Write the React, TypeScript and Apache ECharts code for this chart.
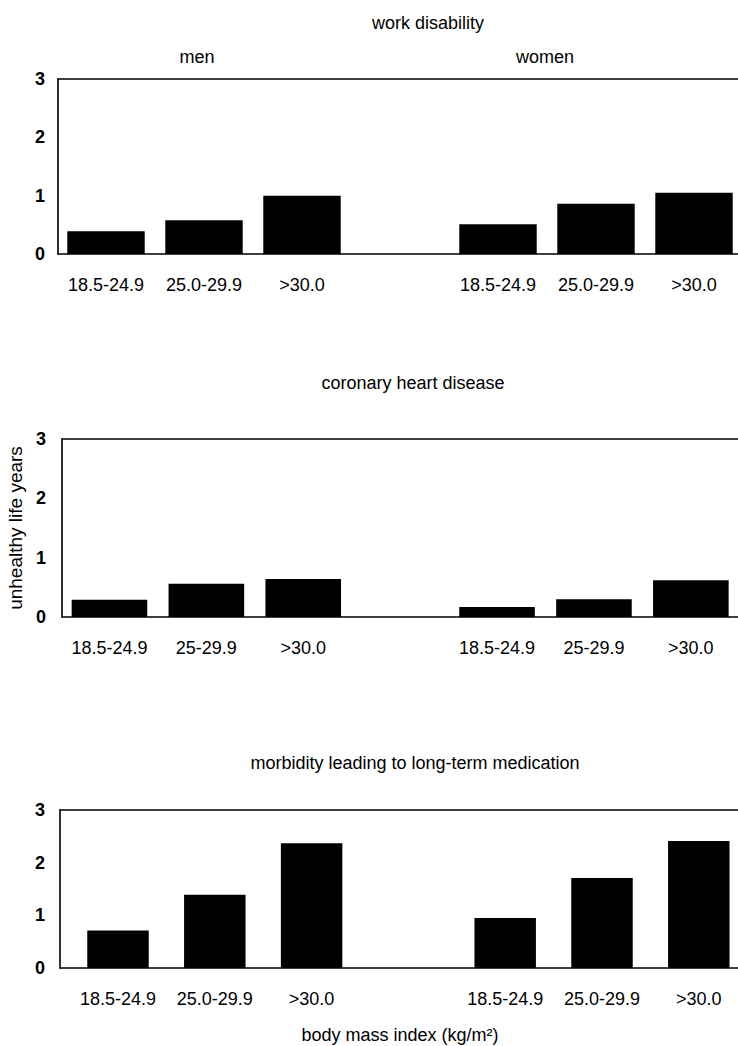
import React, { useEffect, useRef } from "react";
import * as echarts from "echarts";

// ---- data ----
const categoriesA = ["18.5-24.9", "25.0-29.9", ">30.0"];
const categoriesB = ["18.5-24.9", "25-29.9", ">30.0"];

const workMen = [0.39, 0.58, 1.0];
const workWomen = [0.51, 0.86, 1.05];
const chdMen = [0.29, 0.56, 0.64];
const chdWomen = [0.17, 0.3, 0.62];
const medMen = [0.71, 1.39, 2.37];
const medWomen = [0.95, 1.71, 2.41];

const yTicks = [0, 1, 2, 3];
const panelTitles = [
  "work disability",
  "coronary heart disease",
  "morbidity leading to long-term medication",
];
const groupLabels = ["men", "women"];
const yAxisTitle = "unhealthy life years";
const xAxisTitle = "body mass index (kg/m²)";

// ---- layout (positions / styles) ----
const FONT = "'Liberation Sans', Arial, Helvetica, sans-serif";
const layouts = [
  { axisX: 58, top: 79, base: 254, slotLeft: 57, slot: 98, barW: "79%", labelMargin: 13, nameGap: 0 },
  { axisX: 62, top: 439, base: 617, slotLeft: 61, slot: 96.9, barW: "78%", labelMargin: 16, nameGap: 35 },
  { axisX: 60, top: 810, base: 968, slotLeft: 69.6, slot: 96.8, barW: "63.5%", labelMargin: 15, nameGap: 0 },
];
const W = 738;
const H = 1046;

const panelData = [
  { cats: categoriesA, men: workMen, women: workWomen },
  { cats: categoriesB, men: chdMen, women: chdWomen },
  { cats: categoriesA, men: medMen, women: medWomen },
];

function buildOption() {
  const grid: any[] = [];
  const xAxis: any[] = [];
  const yAxis: any[] = [];
  const series: any[] = [];
  const lineStyle = { color: "#000", width: 1.6 };

  panelData.forEach((p, i) => {
    const L = layouts[i];
    const cats = [...p.cats, "", ...p.cats];
    const vals = [...p.men, null, ...p.women];
    const frameGrid = grid.length;
    grid.push({
      left: L.axisX,
      right: -12,
      top: L.top,
      height: L.base - L.top,
      outerBoundsMode: "none",
      containLabel: false,
    });
    const barGrid = grid.length;
    grid.push({
      left: L.slotLeft,
      width: L.slot * cats.length,
      top: L.top,
      height: L.base - L.top,
      outerBoundsMode: "none",
      containLabel: false,
    });
    // frame axes
    const common = {
      type: "value",
      min: 0,
      max: 1,
      gridIndex: frameGrid,
      axisLabel: { show: false },
      axisTick: { show: false },
      splitLine: { show: false },
      axisLine: { show: true, onZero: false, lineStyle },
    };
    xAxis.push({ ...common, position: "bottom" });
    xAxis.push({ ...common, position: "top" });
    const barX = xAxis.length;
    xAxis.push({
      type: "category",
      gridIndex: barGrid,
      data: cats,
      position: "bottom",
      axisLine: { show: false },
      axisTick: { show: false },
      splitLine: { show: false },
      axisLabel: {
        interval: 0,
        margin: 22,
        color: "#000",
        fontSize: 18,
        fontFamily: FONT,
      },
    });
    yAxis.push({
      type: "value",
      gridIndex: frameGrid,
      min: yTicks[0],
      max: yTicks[yTicks.length - 1],
      interval: 1,
      axisLine: { show: true, onZero: false, lineStyle },
      axisTick: { show: false },
      splitLine: { show: false },
      axisLabel: {
        margin: L.labelMargin,
        color: "#000",
        fontSize: 18,
        fontWeight: "bold",
        fontFamily: FONT,
      },
      ...(i === 1
        ? {
            name: yAxisTitle,
            nameLocation: "middle",
            nameGap: L.nameGap,
            nameTextStyle: { color: "#000", fontSize: 19, fontFamily: FONT },
          }
        : {}),
    });
    const barY = yAxis.length;
    yAxis.push({
      type: "value",
      gridIndex: barGrid,
      min: yTicks[0],
      max: yTicks[yTicks.length - 1],
      show: false,
    });
    series.push({
      type: "bar",
      xAxisIndex: barX,
      yAxisIndex: barY,
      data: vals,
      barWidth: L.barW,
      itemStyle: { color: "#000" },
      z: 1,
    });
  });

  const textStyle = (x: number, y: number, text: string) => ({
    type: "text",
    x,
    y,
    style: {
      text,
      fill: "#000",
      fontSize: 18,
      fontFamily: FONT,
      align: "center",
      verticalAlign: "middle",
    },
  });

  const graphic = [
    textStyle(428, 23, panelTitles[0]),
    textStyle(197, 57, groupLabels[0]),
    textStyle(545, 57, groupLabels[1]),
    textStyle(413, 383, panelTitles[1]),
    textStyle(415, 763, panelTitles[2]),
    textStyle(400, 1035, xAxisTitle),
  ];

  return {
    animation: false,
    backgroundColor: "#fff",
    grid,
    xAxis,
    yAxis,
    series,
    graphic,
  };
}

export default function App() {
  const ref = useRef<HTMLDivElement>(null);
  useEffect(() => {
    if (!ref.current) return;
    const chart = echarts.init(ref.current, undefined, { renderer: "svg" });
    chart.setOption(buildOption() as any);
    return () => chart.dispose();
  }, []);
  return (
    <div
      ref={ref}
      style={{ position: "absolute", left: 0, top: 0, width: W, height: H, background: "#fff" }}
    />
  );
}
